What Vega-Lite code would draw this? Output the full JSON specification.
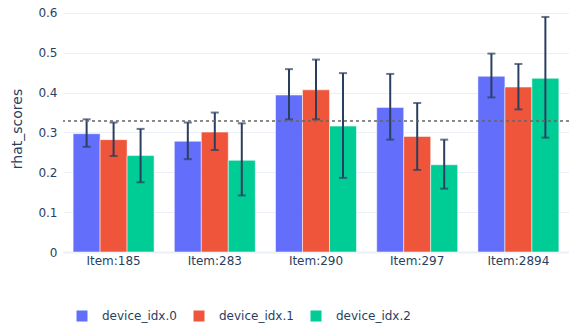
{
  "$schema": "https://vega.github.io/schema/vega-lite/v6.json",
  "autosize": {"type": "none"},
  "width": 506,
  "height": 247,
  "padding": {"left": 63, "top": 5, "right": 0, "bottom": 75},
  "background": "white",
  "config": {
    "view": {"stroke": null},
    "font": "DejaVu Sans",
    "axis": {"labelColor": "#2a3f5f", "titleColor": "#2a3f5f", "labelFont": "DejaVu Sans", "titleFont": "DejaVu Sans", "titleFontWeight": "normal"},
    "legend": {"labelColor": "#2a3f5f", "labelFont": "DejaVu Sans"}
  },
  "datasets": {
    "scores": [
      {"item": "Item:185", "device": "device_idx.0", "value": 0.297, "lo": 0.264, "hi": 0.333},
      {"item": "Item:185", "device": "device_idx.1", "value": 0.282, "lo": 0.241, "hi": 0.325},
      {"item": "Item:185", "device": "device_idx.2", "value": 0.242, "lo": 0.175, "hi": 0.309},
      {"item": "Item:283", "device": "device_idx.0", "value": 0.278, "lo": 0.233, "hi": 0.325},
      {"item": "Item:283", "device": "device_idx.1", "value": 0.301, "lo": 0.256, "hi": 0.350},
      {"item": "Item:283", "device": "device_idx.2", "value": 0.230, "lo": 0.142, "hi": 0.323},
      {"item": "Item:290", "device": "device_idx.0", "value": 0.394, "lo": 0.333, "hi": 0.459},
      {"item": "Item:290", "device": "device_idx.1", "value": 0.407, "lo": 0.333, "hi": 0.483},
      {"item": "Item:290", "device": "device_idx.2", "value": 0.316, "lo": 0.186, "hi": 0.449},
      {"item": "Item:297", "device": "device_idx.0", "value": 0.363, "lo": 0.282, "hi": 0.447},
      {"item": "Item:297", "device": "device_idx.1", "value": 0.290, "lo": 0.206, "hi": 0.374},
      {"item": "Item:297", "device": "device_idx.2", "value": 0.219, "lo": 0.159, "hi": 0.282},
      {"item": "Item:2894", "device": "device_idx.0", "value": 0.441, "lo": 0.388, "hi": 0.498},
      {"item": "Item:2894", "device": "device_idx.1", "value": 0.414, "lo": 0.358, "hi": 0.472},
      {"item": "Item:2894", "device": "device_idx.2", "value": 0.436, "lo": 0.287, "hi": 0.590}
    ],
    "threshold": [{"threshold": 0.329}]
  },
  "layer": [
    {
      "data": {"name": "scores"},
      "mark": {"type": "bar", "stroke": "white", "strokeWidth": 0.5, "opacity": 1},
      "encoding": {
        "x": {"field": "item", "type": "nominal", "sort": null,
              "scale": {"paddingInner": 0.2, "paddingOuter": 0.1},
              "axis": {"title": null, "labelAngle": 0, "ticks": false, "labelFontSize": 12, "labelPadding": 3, "domainColor": "#EBF0F8", "domainWidth": 2}},
        "xOffset": {"field": "device", "type": "nominal", "scale": {"paddingInner": 0, "paddingOuter": 0}},
        "y": {"field": "value", "type": "quantitative",
              "scale": {"domain": [0, 0.62], "nice": false},
              "axis": {"title": "rhat_scores", "values": [0, 0.1, 0.2, 0.3, 0.4, 0.5, 0.6], "format": "~g",
                       "gridColor": "#EBF0F8", "gridWidth": 1, "domain": false, "ticks": false,
                       "labelFontSize": 12, "labelPadding": 6, "titleFontSize": 14, "titlePadding": 13}},
        "color": {"field": "device", "type": "nominal",
                  "scale": {"domain": ["device_idx.0", "device_idx.1", "device_idx.2"], "range": ["#636EFA", "#EF553B", "#00CC96"]},
                  "legend": {"title": null, "orient": "none", "direction": "horizontal", "legendX": 13, "legendY": 305,
                             "symbolType": "square", "symbolSize": 121, "symbolStrokeWidth": 0, "labelFontSize": 12,
                             "labelOffset": 14, "columnPadding": 16, "padding": 0}}
      }
    },
    {
      "data": {"name": "scores"},
      "mark": {"type": "rule", "color": "#2a3f5f", "strokeWidth": 2},
      "encoding": {
        "x": {"field": "item", "type": "nominal", "sort": null},
        "xOffset": {"field": "device", "type": "nominal"},
        "y": {"field": "lo", "type": "quantitative"},
        "y2": {"field": "hi"}
      }
    },
    {
      "data": {"name": "scores"},
      "mark": {"type": "tick", "color": "#2a3f5f", "thickness": 2, "size": 8, "orient": "horizontal"},
      "encoding": {
        "x": {"field": "item", "type": "nominal", "sort": null},
        "xOffset": {"field": "device", "type": "nominal"},
        "y": {"field": "lo", "type": "quantitative"}
      }
    },
    {
      "data": {"name": "scores"},
      "mark": {"type": "tick", "color": "#2a3f5f", "thickness": 2, "size": 8, "orient": "horizontal"},
      "encoding": {
        "x": {"field": "item", "type": "nominal", "sort": null},
        "xOffset": {"field": "device", "type": "nominal"},
        "y": {"field": "hi", "type": "quantitative"}
      }
    },
    {
      "data": {"name": "threshold"},
      "mark": {"type": "rule", "color": "#666666", "strokeWidth": 1.5, "strokeDash": [3, 3]},
      "encoding": {
        "y": {"field": "threshold", "type": "quantitative"}
      }
    }
  ]
}
